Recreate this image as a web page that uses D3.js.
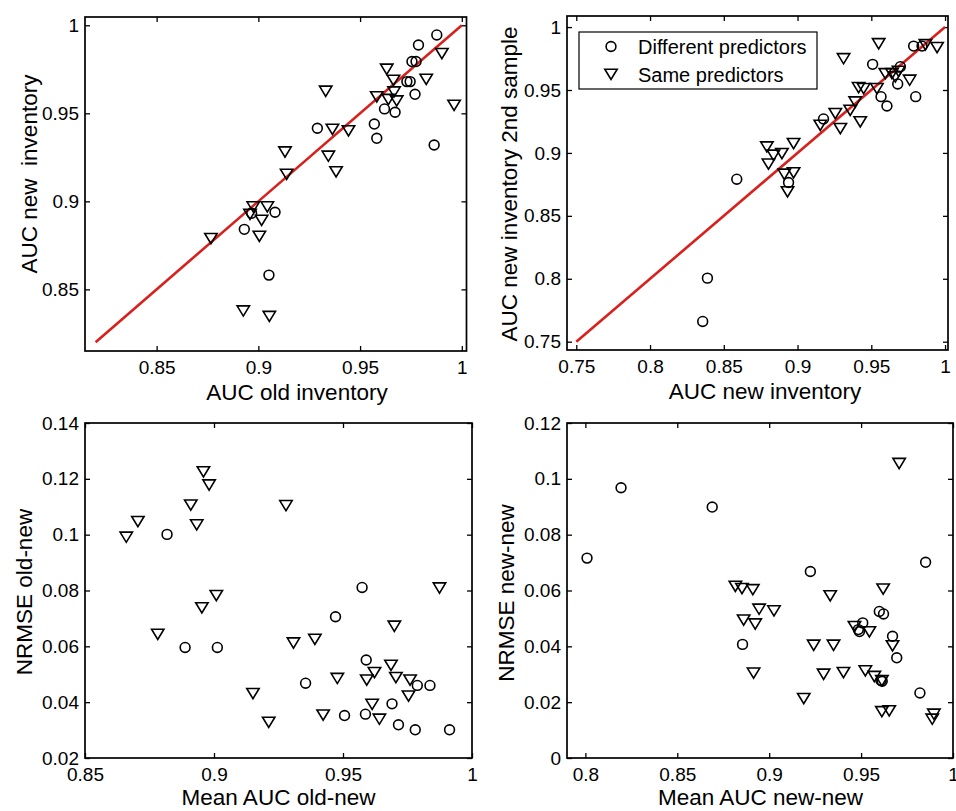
<!DOCTYPE html>
<html>
<head>
<meta charset="utf-8">
<script src="https://cdn.jsdelivr.net/npm/d3@7"></script>
<style>
  body { margin: 0; background: #fff; }
  svg { display: block; font-family: "Liberation Sans", Arial, sans-serif; }
</style>
</head>
<body>
<script>
// datos: [x, y]
var p1Diff = [[0.9877,0.9945],[0.9787,0.9888],[0.9755,0.9794],[0.9775,0.9794],[0.9746,0.968],[0.9730,0.968],
  [0.977,0.9608],[0.962,0.9525],[0.9672,0.9506],[0.957,0.9439],[0.9582,0.9358],[0.9864,0.932],[0.929,0.9415],
  [0.9082,0.8938],[0.8931,0.8841],[0.9052,0.8581],[0.8967,0.8932]];
var p1Same = [[0.9902,0.9841],[0.9631,0.9752],[0.9825,0.9695],[0.9664,0.9689],[0.9667,0.9623],[0.9582,0.9595],
  [0.9639,0.958],[0.968,0.9572],[0.9962,0.9547],[0.9331,0.9627],[0.9364,0.9411],[0.9443,0.9402],[0.9131,0.9282],
  [0.9344,0.9258],[0.9139,0.9155],[0.9382,0.9169],[0.8975,0.897],[0.9044,0.897],[0.8959,0.8928],[0.9016,0.8894],
  [0.9005,0.8803],[0.8767,0.879],[0.8926,0.8379],[0.9054,0.8348]];

var p2Diff = [[0.9787,0.9849],[0.9844,0.9849],[0.9509,0.9704],[0.9697,0.9685],[0.9679,0.9548],[0.9566,0.9447],
  [0.9606,0.9373],[0.9801,0.9447],[0.9176,0.927],[0.8588,0.8791],[0.8939,0.8765],[0.8389,0.8005],[0.8357,0.7661]];
var p2Same = [[0.955,0.987],[0.9312,0.9751],[0.9867,0.9862],[0.9946,0.9839],[0.976,0.958],[0.9595,0.9632],
  [0.964,0.9632],[0.9663,0.9606],[0.9685,0.965],[0.9414,0.9521],[0.9448,0.9513],[0.9538,0.9513],[0.9391,0.9407],
  [0.9357,0.9341],[0.9425,0.9249],[0.9256,0.9315],[0.929,0.9196],[0.9154,0.9222],[0.8792,0.905],[0.8837,0.8984],
  [0.8894,0.8997],[0.8973,0.9077],[0.8803,0.8913],[0.891,0.8833],[0.8973,0.8844],[0.8932,0.8693]];

var p3Diff = [[0.8818,0.1001],[0.8888,0.0596],[0.9013,0.0596],[0.9574,0.0811],[0.9471,0.0706],[0.959,0.0551],
  [0.9355,0.0468],[0.9788,0.046],[0.9837,0.046],[0.969,0.0394],[0.9506,0.0352],[0.9587,0.0357],[0.9715,0.0319],
  [0.978,0.0301],[0.9913,0.0301]];
var p3Same = [[0.8959,0.1226],[0.8981,0.1179],[0.891,0.1107],[0.8933,0.1036],[0.8705,0.1048],[0.866,0.0992],
  [0.9279,0.1105],[0.9009,0.0783],[0.8953,0.0739],[0.8782,0.0644],[0.9308,0.0613],[0.9391,0.0626],[0.9874,0.081],
  [0.9699,0.0673],[0.9686,0.0533],[0.9622,0.0507],[0.9705,0.0489],[0.9592,0.048],[0.9478,0.0486],[0.976,0.048],
  [0.9754,0.0423],[0.9613,0.0393],[0.9151,0.0432],[0.9212,0.0329],[0.9423,0.0355],[0.9641,0.034]];

var p4Diff = [[0.8009,0.0716],[0.8194,0.0968],[0.869,0.0899],[0.9224,0.0668],[0.9851,0.0701],[0.8855,0.0407],
  [0.9599,0.0525],[0.9622,0.0516],[0.9509,0.0484],[0.9491,0.0453],[0.9485,0.046],[0.9671,0.0436],[0.9694,0.0359],
  [0.9608,0.0278],[0.9615,0.0275],[0.982,0.0233]];
var p4Same = [[0.9707,0.1056],[0.8816,0.0616],[0.8852,0.0608],[0.8911,0.0604],[0.9332,0.0582],[0.962,0.0606],
  [0.8945,0.0534],[0.9026,0.0528],[0.8861,0.0495],[0.8924,0.0481],[0.9464,0.0472],[0.9545,0.0453],[0.9242,0.0405],
  [0.935,0.0405],[0.9671,0.0403],[0.8915,0.0305],[0.9296,0.0301],[0.9404,0.0307],[0.9523,0.0313],[0.9572,0.0293],
  [0.9613,0.0278],[0.9188,0.0214],[0.9613,0.0167],[0.9653,0.017],[0.9896,0.0158],[0.9887,0.014]];

// linea 1:1
var p1Line = [0.82, 1];
var p2Line = [0.75, 1];

// ticks
var p1Ticks = [0.85, 0.9, 0.95, 1];
var p2Ticks = [0.75, 0.8, 0.85, 0.9, 0.95, 1];
var p3XTicks = [0.85, 0.9, 0.95, 1];
var p3YTicks = [0.02, 0.04, 0.06, 0.08, 0.1, 0.12, 0.14];
var p4XTicks = [0.8, 0.85, 0.9, 0.95, 1];
var p4YTicks = [0, 0.02, 0.04, 0.06, 0.08, 0.1, 0.12];

var legendLabels = ["Different predictors", "Same predictors"];

var W = 956, H = 811;
var tickFont = "19px", titleFont = "22.5px";

var svg = d3.select("body").append("svg")
    .attr("width", W)
    .attr("height", H);

svg.append("rect").attr("width", W).attr("height", H).attr("fill", "#fff");

var triPath = "M-6.2,-4.8L6.2,-4.8L0,5.4Z";
var mr = 4.9, mw = 1.6;

function panel(o) {
  var x = d3.scaleLinear().domain(o.xd).range([o.x0, o.x1]);
  var y = d3.scaleLinear().domain(o.yd).range([o.y1, o.y0]);
  var g = svg.append("g");

  // ejes con ticks hacia dentro
  g.append("g")
      .attr("transform", "translate(0," + o.y1 + ")")
      .call(d3.axisBottom(x).tickValues(o.xt).tickSizeInner(-5).tickSizeOuter(0).tickPadding(9.5).tickFormat(String));
  g.append("g")
      .attr("transform", "translate(" + o.x0 + ",0)")
      .call(d3.axisLeft(y).tickValues(o.yt).tickSizeInner(-5).tickSizeOuter(0).tickPadding(6).tickFormat(String));
  g.append("g")
      .attr("transform", "translate(0," + o.y0 + ")")
      .call(d3.axisTop(x).tickValues(o.xt).tickSizeInner(-5).tickSizeOuter(0).tickFormat(""));
  g.append("g")
      .attr("transform", "translate(" + o.x1 + ",0)")
      .call(d3.axisRight(y).tickValues(o.yt).tickSizeInner(-5).tickSizeOuter(0).tickFormat(""));

  g.selectAll(".domain").remove();
  g.selectAll(".tick line").attr("stroke", "#000").attr("stroke-width", 1.3);
  g.selectAll(".tick text")
      .attr("fill", "#000")
      .style("font-size", tickFont)
      .style("font-family", "'Liberation Sans', Arial, sans-serif");

  g.append("rect")
      .attr("x", o.x0).attr("y", o.y0)
      .attr("width", o.x1 - o.x0).attr("height", o.y1 - o.y0)
      .attr("fill", "none").attr("stroke", "#000").attr("stroke-width", 1.7);

  // linea roja
  if (o.line) {
    g.append("line")
      .attr("x1", x(o.line[0])).attr("y1", y(o.line[0]))
      .attr("x2", x(o.line[1])).attr("y2", y(o.line[1]))
      .attr("stroke", "#d8201c").attr("stroke-width", 2.6);
  }

  g.selectAll(".tri").data(o.same).enter().append("path")
      .attr("class", "tri")
      .attr("d", triPath)
      .attr("transform", function(d) { return "translate(" + x(d[0]) + "," + y(d[1]) + ")"; })
      .attr("fill", "none").attr("stroke", "#000").attr("stroke-width", mw);

  g.selectAll(".circ").data(o.diff).enter().append("circle")
      .attr("class", "circ")
      .attr("cx", function(d) { return x(d[0]); })
      .attr("cy", function(d) { return y(d[1]); })
      .attr("r", mr)
      .attr("fill", "none").attr("stroke", "#000").attr("stroke-width", mw);

  // titulos de ejes
  g.append("text")
      .attr("x", o.xlx).attr("y", o.y1 + o.xly)
      .attr("text-anchor", "middle")
      .style("font-size", titleFont)
      .text(o.xl);
  g.append("text")
      .attr("transform", "translate(" + o.ylx + "," + o.yly + ") rotate(-90)")
      .attr("text-anchor", "middle")
      .style("font-size", titleFont)
      .style("white-space", "pre")
      .text(o.yl);
}

panel({x0: 85, x1: 466.5, y0: 17, y1: 351, xd: [0.8148, 1.0023], yd: [0.815, 1.0047],
  xt: p1Ticks, yt: p1Ticks, same: p1Same, diff: p1Diff, line: p1Line,
  xl: "AUC old inventory", xlx: 297, xly: 49, yl: "AUC new  inventory", ylx: 37, yly: 174});

panel({x0: 567, x1: 948, y0: 16, y1: 350, xd: [0.7437, 1.002], yd: [0.7434, 1.0088],
  xt: p2Ticks, yt: p2Ticks, same: p2Same, diff: p2Diff, line: p2Line,
  xl: "AUC new  inventory", xlx: 765, xly: 49, yl: "AUC new inventory 2nd sample", ylx: 517, yly: 184});

panel({x0: 85, x1: 472, y0: 423, y1: 758, xd: [0.85, 1.0], yd: [0.02, 0.14],
  xt: p3XTicks, yt: p3YTicks, same: p3Same, diff: p3Diff,
  xl: "Mean AUC old-new", xlx: 278.5, xly: 47, yl: "NRMSE old-new", ylx: 32, yly: 592});

panel({x0: 567, x1: 953, y0: 423, y1: 758, xd: [0.79, 1.0], yd: [0, 0.12],
  xt: p4XTicks, yt: p4YTicks, same: p4Same, diff: p4Diff,
  xl: "Mean AUC new-new", xlx: 760.5, xly: 47, yl: "NRMSE new-new", ylx: 514, yly: 593});

// leyenda
var leg = svg.append("g");
leg.append("rect")
    .attr("x", 579).attr("y", 32).attr("width", 238).attr("height", 57)
    .attr("fill", "#fff").attr("stroke", "#000").attr("stroke-width", 1.2);
leg.append("circle")
    .attr("cx", 611).attr("cy", 46.5).attr("r", mr)
    .attr("fill", "none").attr("stroke", "#000").attr("stroke-width", mw);
leg.append("path")
    .attr("d", triPath)
    .attr("transform", "translate(611,74)")
    .attr("fill", "none").attr("stroke", "#000").attr("stroke-width", mw);
leg.selectAll("text").data(legendLabels).enter().append("text")
    .attr("x", 638)
    .attr("y", function(d, i) { return 53.5 + i * 28; })
    .style("font-size", "20px")
    .text(function(d) { return d; });
</script>
</body>
</html>
